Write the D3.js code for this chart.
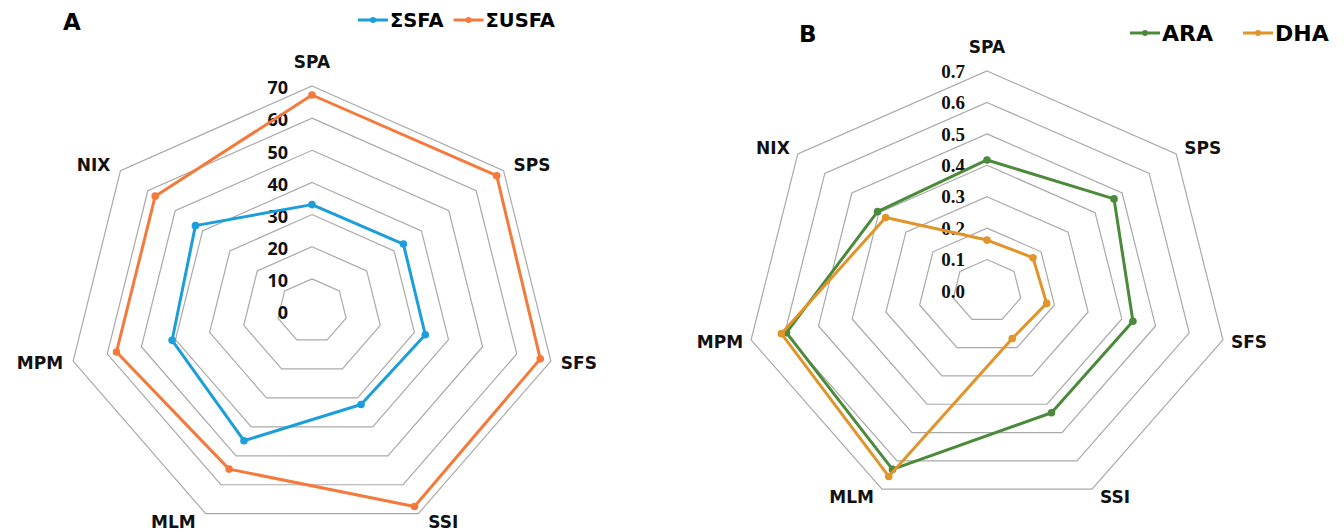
<!DOCTYPE html>
<html lang="en">
<head>
   <meta charset="UTF-8">
   <title>Radar charts</title>
   <script src="https://d3js.org/d3.v7.min.js"></script>
   <style>
      body {
         margin: 0;
         background: #fff;
         font-family: "Open Sans", Arial, sans-serif;
      }

      .ring {
         fill: none;
         stroke: #a9a9a9;
         stroke-width: 1.2;
      }

      .axis-label {
         font-family: "DejaVu Sans", sans-serif;
         font-size: 17px;
         font-weight: bold;
         fill: #111;
      }

      .tick-a {
         font-size: 18px;
         font-weight: bold;
         fill: #111;
      }

      .tick-b {
         font-family: "Liberation Serif", "Times New Roman", serif;
         font-size: 19px;
         font-weight: bold;
         fill: #111;
      }

      .panel-title {
         font-family: "DejaVu Sans", sans-serif;
         font-size: 23px;
         font-weight: bold;
      }

      .legend-text {
         font-family: "DejaVu Sans", sans-serif;
         font-weight: bold;
      }
   </style>
</head>
<body>
   <div id="chart"></div>

   <script>
      // values
      const axesNames = ['SPA', 'SPS', 'SFS', 'SSI', 'MLM', 'MPM', 'NIX'];

      const sfaValues = [33.1, 33.4, 33.2, 32.3, 44.8, 41.0, 42.6];
      const usfaValues = [67.2, 67.5, 66.9, 67.5, 54.6, 57.3, 57.3];
      const ticksA = [0, 10, 20, 30, 40, 50, 60, 70];

      const araValues = [0.417, 0.470, 0.433, 0.430, 0.630, 0.595, 0.405];
      const dhaValues = [0.162, 0.170, 0.177, 0.168, 0.655, 0.610, 0.375];
      const ticksB = [0.0, 0.1, 0.2, 0.3, 0.4, 0.5, 0.6, 0.7];

      const width = 1344;
      const height = 532;

      const svg = d3.select('#chart')
         .append('svg')
         .attr('width', width)
         .attr('height', height);

      const n = axesNames.length;
      const angle = i => i * 2 * Math.PI / n;

      function drawRadar(opt) {
         const g = svg.append('g');
         // the original picture is a bit wider than tall, so x and y radii differ
         const rx = d3.scaleLinear().domain([0, opt.max]).range([0, opt.rx]);
         const ry = d3.scaleLinear().domain([0, opt.max]).range([0, opt.ry]);
         const px = (v, i) => opt.cx + rx(v) * Math.sin(angle(i));
         const py = (v, i) => opt.cy - ry(v) * Math.cos(angle(i));

         // grid rings
         g.selectAll('.ring')
            .data(opt.ticks.filter(t => t > 0))
            .enter()
            .append('polygon')
            .attr('class', 'ring')
            .attr('points', t => axesNames.map((a, i) => `${px(t, i)},${py(t, i)}`).join(' '));

         // tick labels up the SPA spoke
         g.selectAll('.tick')
            .data(opt.ticks)
            .enter()
            .append('text')
            .attr('class', opt.tickClass)
            .attr('x', opt.cx - opt.tickGap)
            .attr('y', t => py(t, 0) + opt.tickDy)
            .attr('dy', '0.35em')
            .attr('text-anchor', 'end')
            .text(t => opt.tickFormat(t));

         // axis names
         g.selectAll('.axis-label')
            .data(axesNames)
            .enter()
            .append('text')
            .attr('class', 'axis-label')
            .attr('x', (d, i) => {
               const s = Math.sin(angle(i));
               const base = px(opt.max, i);
               if (Math.abs(s) < 0.01) return base;
               return base + (s > 0 ? opt.labelGap : -opt.labelGap);
            })
            .attr('y', (d, i) => {
               const c = Math.cos(angle(i));
               const base = py(opt.max, i);
               if (c > 0.99) return base - 24;
               if (c > 0.5) return base - 6;
               if (c > -0.5) return base + 2;
               return base + 8;
            })
            .attr('dy', '0.35em')
            .attr('text-anchor', (d, i) => {
               const s = Math.sin(angle(i));
               if (Math.abs(s) < 0.01) return 'middle';
               return s > 0 ? 'start' : 'end';
            })
            .text(d => d);

         // series lines and markers
         opt.series.forEach(s => {
            const pts = s.values.map((v, i) => [px(v, i), py(v, i)]);
            g.append('path')
               .attr('d', d3.line()(pts) + 'Z')
               .attr('fill', 'none')
               .attr('stroke', s.color)
               .attr('stroke-width', 3)
               .attr('stroke-linejoin', 'round');

            g.selectAll(null)
               .data(pts)
               .enter()
               .append('circle')
               .attr('cx', d => d[0])
               .attr('cy', d => d[1])
               .attr('r', 3.8)
               .attr('fill', s.color);
         });

         // panel letter
         svg.append('text')
            .attr('class', 'panel-title')
            .attr('x', opt.title.x)
            .attr('y', opt.title.y)
            .text(opt.title.text);

         // legend
         let lx = opt.legend.x;
         opt.series.forEach(s => {
            const lg = svg.append('g').attr('transform', `translate(${lx}, ${opt.legend.y})`);
            lg.append('line')
               .attr('x1', 0).attr('x2', 30)
               .attr('stroke', s.color)
               .attr('stroke-width', 3);
            lg.append('circle')
               .attr('cx', 15)
               .attr('r', 3)
               .attr('fill', s.color);
            const t = lg.append('text')
               .attr('class', 'legend-text')
               .attr('x', 32)
               .attr('dy', '0.35em')
               .style('font-size', opt.legend.size + 'px')
               .text(s.name);
            lx += 32 + t.node().getComputedTextLength() + opt.legend.spacing;
         });
      }

      drawRadar({
         cx: 312, cy: 311, rx: 245, ry: 225, max: 70,
         ticks: ticksA, tickClass: 'tick-a', tickGap: 24, tickDy: 2,
         tickFormat: d3.format('d'),
         labelGap: 10,
         series: [
            { name: 'ΣSFA', values: sfaValues, color: '#1b9ed9' },
            { name: 'ΣUSFA', values: usfaValues, color: '#f47a3c' }
         ],
         title: { text: 'A', x: 63, y: 30 },
         legend: { x: 358, y: 20, spacing: 10, size: 19.5 },
      });

      drawRadar({
         cx: 987, cy: 291, rx: 242, ry: 220, max: 0.7,
         ticks: ticksB, tickClass: 'tick-b', tickGap: 22, tickDy: 0,
         tickFormat: d3.format('.1f'),
         labelGap: 8,
         series: [
            { name: 'ARA', values: araValues, color: '#4a8a3a' },
            { name: 'DHA', values: dhaValues, color: '#e0942a' }
         ],
         title: { text: 'B', x: 799, y: 42 },
         legend: { x: 1130, y: 33, spacing: 30, size: 22 }
      });
   </script>
</body>
</html>
